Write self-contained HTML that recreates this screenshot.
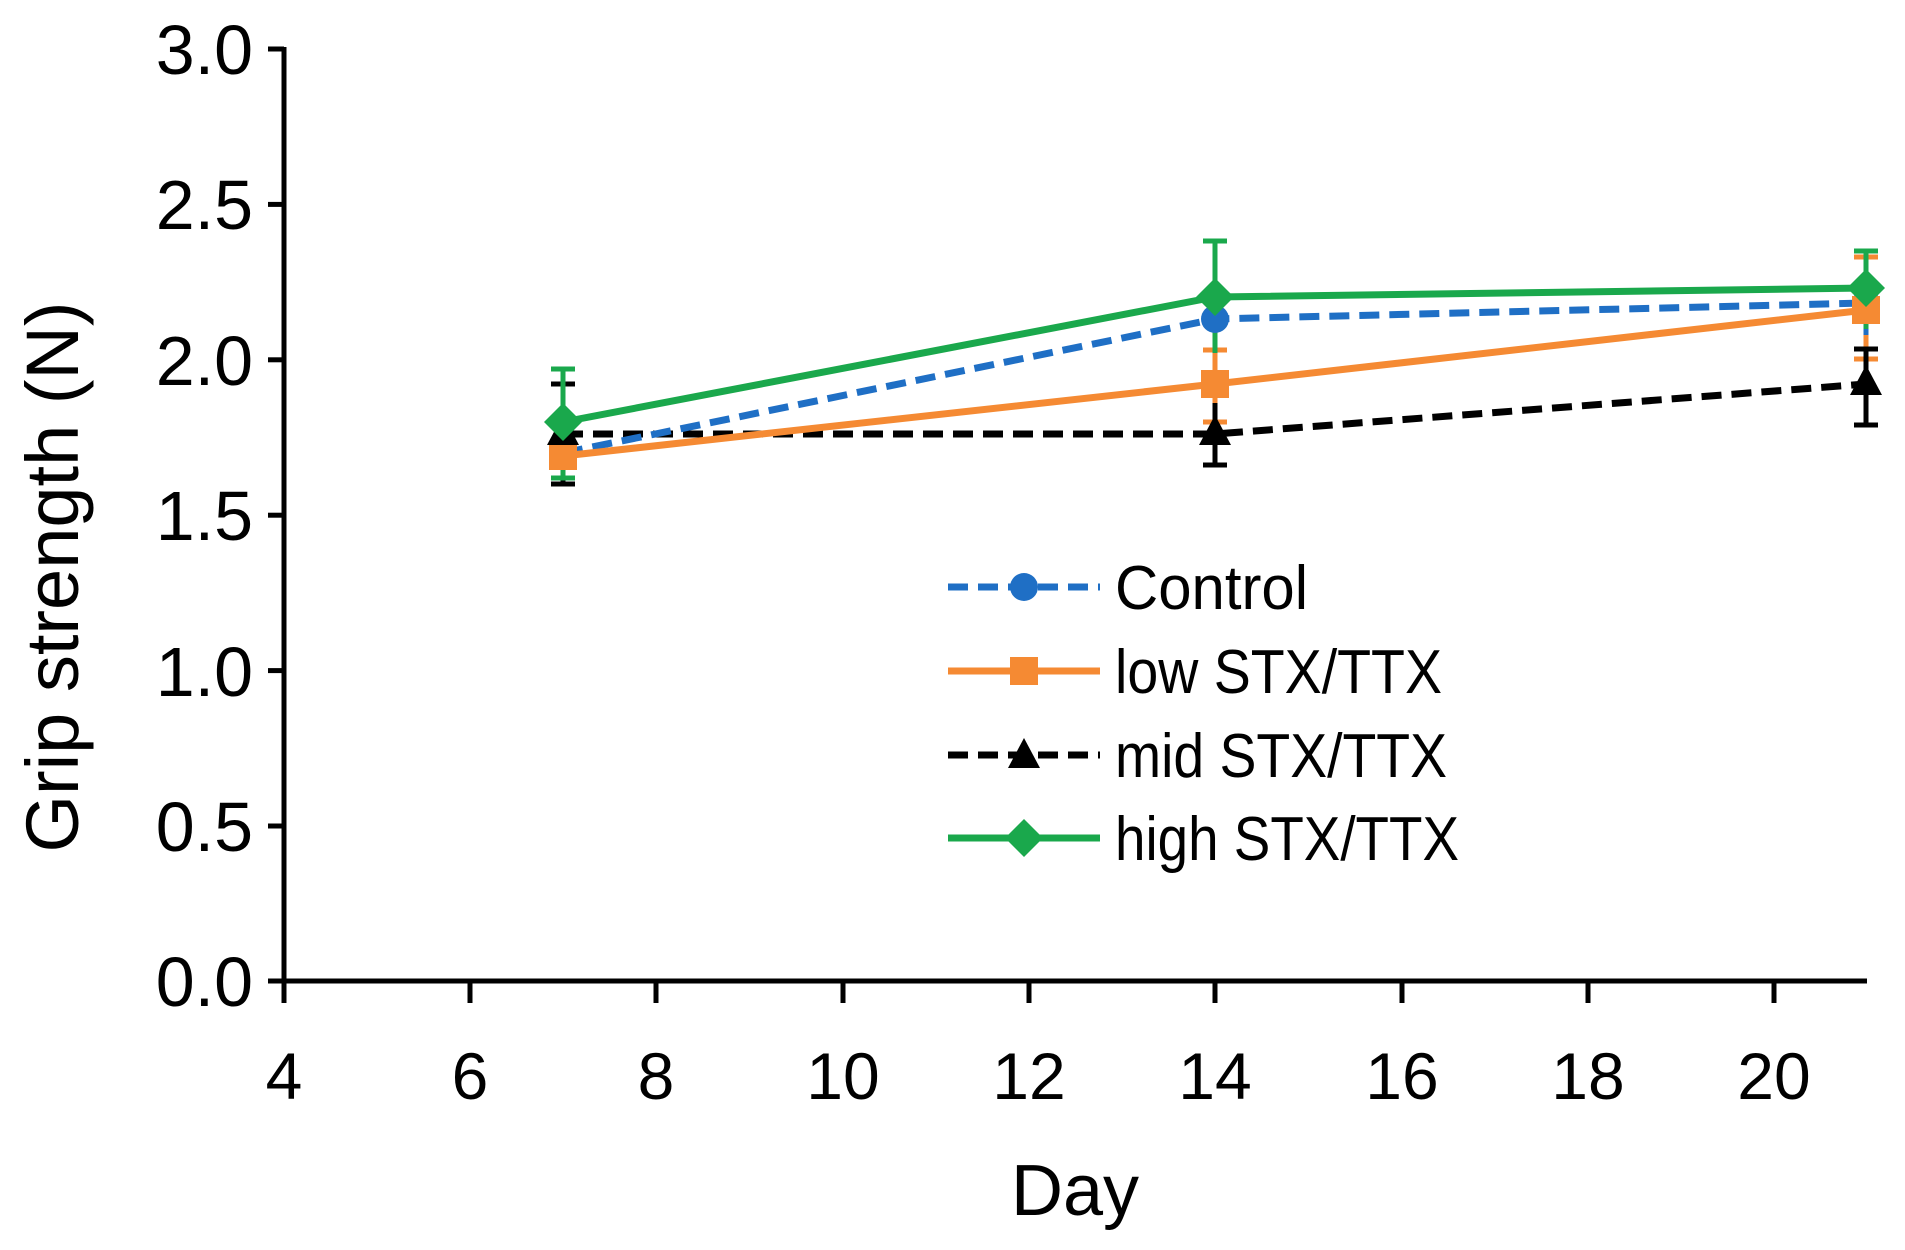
<!DOCTYPE html><html><head><style>body{margin:0;background:#fff}</style></head><body>
<svg width="1905" height="1245" viewBox="0 0 1905 1245" xmlns="http://www.w3.org/2000/svg" font-family="Liberation Sans, sans-serif">
<g stroke="#000" stroke-width="5">
<line x1="284" y1="47" x2="284" y2="983"/><line x1="282" y1="981" x2="1867" y2="981"/>
<line x1="268" y1="49" x2="284" y2="49"/><line x1="268" y1="204.4" x2="284" y2="204.4"/><line x1="268" y1="359.8" x2="284" y2="359.8"/><line x1="268" y1="515.2" x2="284" y2="515.2"/><line x1="268" y1="670.6" x2="284" y2="670.6"/><line x1="268" y1="826" x2="284" y2="826"/><line x1="268" y1="981" x2="284" y2="981"/>
<line x1="284" y1="981" x2="284" y2="1003"/><line x1="470" y1="981" x2="470" y2="1003"/><line x1="656" y1="981" x2="656" y2="1003"/><line x1="843" y1="981" x2="843" y2="1003"/><line x1="1029" y1="981" x2="1029" y2="1003"/><line x1="1215" y1="981" x2="1215" y2="1003"/><line x1="1402" y1="981" x2="1402" y2="1003"/><line x1="1588" y1="981" x2="1588" y2="1003"/><line x1="1774" y1="981" x2="1774" y2="1003"/>
</g>
<g font-size="70" text-anchor="end">
<text x="253" y="74">3.0</text><text x="253" y="229">2.5</text><text x="253" y="385">2.0</text><text x="253" y="540">1.5</text><text x="253" y="696">1.0</text><text x="253" y="851">0.5</text><text x="253" y="1006">0.0</text></g>
<g font-size="66" text-anchor="middle">
<text x="284" y="1099">4</text><text x="470" y="1099">6</text><text x="656" y="1099">8</text><text x="843" y="1099">10</text><text x="1029" y="1099">12</text><text x="1215" y="1099">14</text><text x="1402" y="1099">16</text><text x="1588" y="1099">18</text><text x="1774" y="1099">20</text></g>
<text x="1075" y="1215" font-size="72" text-anchor="middle">Day</text>
<text transform="translate(78,577) rotate(-90)" font-size="74" text-anchor="middle">Grip strength (N)</text>
<g stroke-width="5" fill="none">
<path stroke="#f58a33" d="M1215,422V350M1203,422h24M1203,350h24M1866,359V257M1854,359h24M1854,257h24"/>
<path stroke="#1f6fc5" d="M1215,344V291M1866,335V257"/>
<path stroke="#000" d="M563,484V384M551,484h24M551,384h24M1215,465V403M1203,465h24M1866,425V349M1854,425h24M1854,349h24"/>
<path stroke="#1aa84c" d="M563,478V369M551,478h24M551,369h24M1215,353V241M1203,241h24M1866,329V251M1854,251h24"/>
</g>
<g stroke-width="7" fill="none">
<polyline stroke="#000" stroke-dasharray="20,10" points="563,434 1215,434 1866,384"/>
<polyline stroke="#1f6fc5" stroke-dasharray="20,10" points="563,453 1215,319 1866,303"/>
<polyline stroke="#f58a33" points="563,456 1215,384 1866,310"/>
<polyline stroke="#1aa84c" points="563,422 1215,297 1866,288"/>
</g>
<circle cx="1215" cy="319" r="14" fill="#1f6fc5"/><circle cx="1866" cy="303" r="14" fill="#1f6fc5"/>
<g fill="#f58a33"><rect x="549" y="442" width="28" height="28"/><rect x="1201" y="370" width="28" height="28"/><rect x="1852" y="296" width="28" height="28"/></g>
<g fill="#000"><path d="M563,415l16,30h-32z"/><path d="M1215,415l16,30h-32z"/><path d="M1866,365l16,30h-32z"/></g>
<g fill="#1aa84c"><path d="M563,403l19,19-19,19-19-19z"/><path d="M1215,278l19,19-19,19-19-19z"/><path d="M1866,269l19,19-19,19-19-19z"/></g>
<g stroke-width="7">
<line x1="948" y1="587" x2="1100" y2="587" stroke="#1f6fc5" stroke-dasharray="20,10"/>
<line x1="948" y1="671" x2="1100" y2="671" stroke="#f58a33"/>
<line x1="948" y1="755" x2="1100" y2="755" stroke="#000" stroke-dasharray="20,10"/>
<line x1="948" y1="838" x2="1100" y2="838" stroke="#1aa84c"/></g>
<circle cx="1024" cy="587" r="14" fill="#1f6fc5"/>
<rect x="1010" y="657" width="28" height="28" fill="#f58a33"/>
<path d="M1024,738l16,30h-32z" fill="#000"/>
<path d="M1024,819l19,19-19,19-19-19z" fill="#1aa84c"/>
<g font-size="62"><text x="1115" y="609" textLength="193" lengthAdjust="spacingAndGlyphs">Control</text><text x="1115" y="693" textLength="327" lengthAdjust="spacingAndGlyphs">low STX/TTX</text><text x="1115" y="777" textLength="332" lengthAdjust="spacingAndGlyphs">mid STX/TTX</text><text x="1115" y="860" textLength="344" lengthAdjust="spacingAndGlyphs">high STX/TTX</text></g>
</svg></body></html>
